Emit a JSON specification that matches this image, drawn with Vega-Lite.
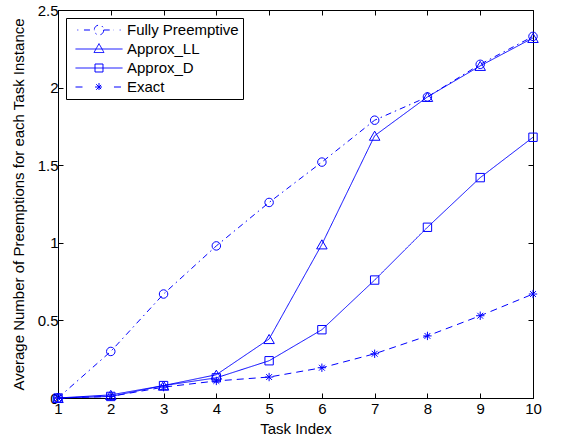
{
  "$schema": "https://vega.github.io/schema/vega-lite/v6.json",
  "width": 475,
  "height": 388,
  "autosize": "none",
  "padding": {"left": 58, "top": 10, "right": 30, "bottom": 42},
  "background": "white",
  "config": {
    "font": "Liberation Sans",
    "view": {"stroke": "black", "strokeWidth": 1},
    "axis": {
      "grid": false,
      "domainColor": "black",
      "tickColor": "black",
      "labelColor": "black",
      "titleColor": "black",
      "labelFont": "Liberation Sans",
      "titleFont": "Liberation Sans",
      "labelFontSize": 15,
      "titleFontSize": 15,
      "titleFontWeight": "normal",
      "tickSize": -5
    }
  },
  "data": {
    "values": [
      {"task": 1, "value": 0, "series": "Fully Preemptive"},
      {"task": 2, "value": 0.30, "series": "Fully Preemptive"},
      {"task": 3, "value": 0.67, "series": "Fully Preemptive"},
      {"task": 4, "value": 0.98, "series": "Fully Preemptive"},
      {"task": 5, "value": 1.26, "series": "Fully Preemptive"},
      {"task": 6, "value": 1.52, "series": "Fully Preemptive"},
      {"task": 7, "value": 1.79, "series": "Fully Preemptive"},
      {"task": 8, "value": 1.94, "series": "Fully Preemptive"},
      {"task": 9, "value": 2.15, "series": "Fully Preemptive"},
      {"task": 10, "value": 2.33, "series": "Fully Preemptive"},
      {"task": 1, "value": 0, "series": "Approx_LL"},
      {"task": 2, "value": 0.02, "series": "Approx_LL"},
      {"task": 3, "value": 0.08, "series": "Approx_LL"},
      {"task": 4, "value": 0.15, "series": "Approx_LL"},
      {"task": 5, "value": 0.38, "series": "Approx_LL"},
      {"task": 6, "value": 0.99, "series": "Approx_LL"},
      {"task": 7, "value": 1.69, "series": "Approx_LL"},
      {"task": 8, "value": 1.94, "series": "Approx_LL"},
      {"task": 9, "value": 2.14, "series": "Approx_LL"},
      {"task": 10, "value": 2.32, "series": "Approx_LL"},
      {"task": 1, "value": 0, "series": "Approx_D"},
      {"task": 2, "value": 0.01, "series": "Approx_D"},
      {"task": 3, "value": 0.08, "series": "Approx_D"},
      {"task": 4, "value": 0.13, "series": "Approx_D"},
      {"task": 5, "value": 0.24, "series": "Approx_D"},
      {"task": 6, "value": 0.44, "series": "Approx_D"},
      {"task": 7, "value": 0.76, "series": "Approx_D"},
      {"task": 8, "value": 1.10, "series": "Approx_D"},
      {"task": 9, "value": 1.42, "series": "Approx_D"},
      {"task": 10, "value": 1.68, "series": "Approx_D"},
      {"task": 1, "value": 0, "series": "Exact"},
      {"task": 2, "value": 0.01, "series": "Exact"},
      {"task": 3, "value": 0.07, "series": "Exact"},
      {"task": 4, "value": 0.11, "series": "Exact"},
      {"task": 5, "value": 0.135, "series": "Exact"},
      {"task": 6, "value": 0.195, "series": "Exact"},
      {"task": 7, "value": 0.285, "series": "Exact"},
      {"task": 8, "value": 0.40, "series": "Exact"},
      {"task": 9, "value": 0.53, "series": "Exact"},
      {"task": 10, "value": 0.67, "series": "Exact"}
    ]
  },
  "resolve": {"axis": {"x": "independent", "y": "independent"}},
  "encoding": {
    "x": {"field": "task", "type": "quantitative", "scale": {"domain": [1, 10], "nice": false, "zero": false}},
    "y": {"field": "value", "type": "quantitative", "scale": {"domain": [0, 2.5], "nice": false}}
  },
  "layer": [
    {
      "mark": {"type": "line", "strokeWidth": 1, "clip": false},
      "encoding": {
        "x": {
          "field": "task", "type": "quantitative",
          "axis": {"title": "Task Index", "values": [1,2,3,4,5,6,7,8,9,10], "labelPadding": 8, "titlePadding": 5, "labelFlush": false}
        },
        "y": {
          "field": "value", "type": "quantitative",
          "axis": {"title": "Average Number of Preemptions for each Task Instance", "values": [0, 0.5, 1, 1.5, 2, 2.5], "format": "~g", "labelPadding": 5, "titlePadding": 11}
        },
        "strokeDash": {
          "field": "series", "type": "nominal",
          "scale": {
            "domain": ["Fully Preemptive", "Approx_LL", "Approx_D", "Exact"],
            "range": [[6, 4, 1.5, 4], [1, 0], [1, 0], [7, 5]]
          },
          "legend": null
        },
        "color": {
          "field": "series", "type": "nominal",
          "scale": {
            "domain": ["Fully Preemptive", "Approx_LL", "Approx_D", "Exact"],
            "range": ["#0000FF", "#0000FF", "#0000FF", "#0000FF"]
          },
          "legend": {
            "title": null,
            "orient": "top-left",
            "offset": 8,
            "padding": 4,
            "strokeColor": "black",
            "fillColor": "white",
            "labelFont": "Liberation Sans",
            "labelFontSize": 15,
            "labelColor": "black",
            "labelOffset": 41,
            "rowPadding": 3,
            "symbolSize": 225,
            "symbolType": "circle",
            "symbolStrokeColor": "#0000FF",
            "symbolFillColor": "transparent",
            "symbolStrokeWidth": 1,
            "encode": {
              "symbols": {
                "update": {
                  "stroke": {"value": "#0000FF"},
                  "fill": {"value": "transparent"},
                  "shape": {"signal": "datum.value === 'Fully Preemptive' ? 'M-0.083,0L0.037,0M0.797,0L2.177,0M3.427,0L4.797,0M5.557,0L5.677,0M3.427,0A0.627,0.627 0 1,1 2.174,0A0.627,0.627 0 1,1 3.427,0' : datum.value === 'Approx_LL' ? 'M-0.333,0L5.937,0M2.8,-0.72L3.467,0.47L2.133,0.47Z' : datum.value === 'Approx_D' ? 'M-0.333,0L5.937,0M2.267,-0.533L3.333,-0.533L3.333,0.533L2.267,0.533Z' : 'M-0.333,0L0.667,0M4.797,0L5.937,0M2.267,0L3.333,0M2.8,-0.533L2.8,0.533M2.423,-0.377L3.177,0.377M2.423,0.377L3.177,-0.377'"}
                }
              }
            }
          }
        }
      }
    },
    {
      "transform": [{"filter": "datum.series === 'Fully Preemptive'"}],
      "mark": {"type": "point", "shape": "circle", "filled": false, "color": "#0000FF", "strokeWidth": 1, "opacity": 1, "size": 72, "clip": false},
      "encoding": {
        "x": {
          "field": "task", "type": "quantitative",
          "axis": {"orient": "top", "title": null, "labels": false, "values": [1,2,3,4,5,6,7,8,9,10], "domain": false}
        },
        "y": {
          "field": "value", "type": "quantitative",
          "axis": {"orient": "right", "title": null, "labels": false, "values": [0, 0.5, 1, 1.5, 2, 2.5], "domain": false}
        }
      }
    },
    {
      "transform": [{"filter": "datum.series === 'Approx_LL'"}],
      "mark": {"type": "point", "shape": "triangle-up", "filled": false, "color": "#0000FF", "strokeWidth": 1, "opacity": 1, "size": 110, "clip": false},
      "encoding": {
        "x": {"field": "task", "type": "quantitative", "axis": null},
        "y": {"field": "value", "type": "quantitative", "axis": null}
      }
    },
    {
      "transform": [{"filter": "datum.series === 'Approx_D'"}],
      "mark": {"type": "point", "shape": "square", "filled": false, "color": "#0000FF", "strokeWidth": 1, "opacity": 1, "size": 70, "clip": false},
      "encoding": {
        "x": {"field": "task", "type": "quantitative", "axis": null},
        "y": {"field": "value", "type": "quantitative", "axis": null}
      }
    },
    {
      "transform": [{"filter": "datum.series === 'Exact'"}],
      "mark": {"type": "point", "shape": "M-1,0L1,0M0,-1L0,1M-0.7,-0.7L0.7,0.7M-0.7,0.7L0.7,-0.7", "filled": false, "color": "#0000FF", "strokeWidth": 1, "opacity": 1, "size": 70, "clip": false},
      "encoding": {
        "x": {"field": "task", "type": "quantitative", "axis": null},
        "y": {"field": "value", "type": "quantitative", "axis": null}
      }
    }
  ]
}
